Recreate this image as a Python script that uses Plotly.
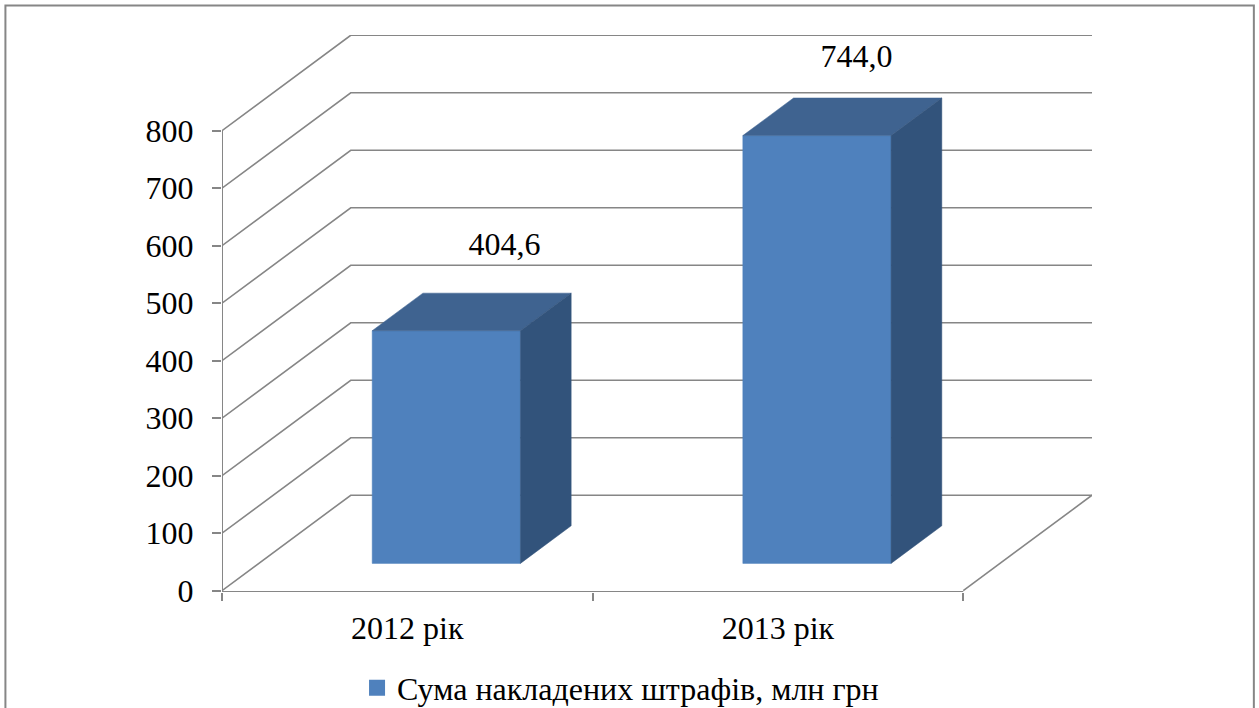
import plotly.graph_objects as go

# --- data ---
categories = ["2012 рік", "2013 рік"]
series_name = "Сума накладених штрафів, млн грн"
values = [404.6, 744.0]
value_labels = ["404,6", "744,0"]
y_ticks = [0, 100, 200, 300, 400, 500, 600, 700, 800]

# --- geometry of the oblique projection, in axis units ---
W, H = 1259, 708
L, R, T, B = 222, 1091.7, 35, 592
X_PER_CAT = 370.5
Y_PER_VAL = 0.575
WALL_DX = (R - L) / X_PER_CAT - 2      # depth of the box, x part
WALL_DY = 166.0                        # depth of the box, y part
GAP_FRAC = 0.303                       # bar starts this far into the depth
BAR_FRAC = 0.394                       # bar occupies this much of the depth
BAR_LIFT = -2.8                        # fine adjustment of the bar base
BAR_WIDTH = 0.4
LABEL_DX = [0.157, 0.107]              # label offset from the bar's centre
LABEL_DY = [80.0, 68.0]                # label offset from the bar's rear top

GRID = "#868686"
FRONT = "#4F81BD"
TOP = "#3F6390"
SIDE = "#32537B"
FONT = "Liberation Serif"

fig = go.Figure()

# walls and floor
gx, gy = [], []
for v in y_ticks:
    gx += [0, WALL_DX, 2 + WALL_DX, None]
    gy += [v, v + WALL_DY, v + WALL_DY, None]
gx += [2, 2 + WALL_DX]
gy += [0, WALL_DY]
fig.add_trace(go.Scatter(x=gx, y=gy, mode="lines", showlegend=False, hoverinfo="skip",
                         line=dict(color=GRID, width=1.6)))
# value axis line and category axis line
axis_y = -(B - 590.7) / Y_PER_VAL
fig.add_trace(go.Scatter(x=[0, 0, None, 0, 2], y=[axis_y, y_ticks[-1], None, axis_y, axis_y],
                         mode="lines", showlegend=False,
                         hoverinfo="skip", line=dict(color=GRID, width=2), cliponaxis=False))

# bars
ox, oy = WALL_DX * GAP_FRAC, WALL_DY * GAP_FRAC + BAR_LIFT
dx, dy = WALL_DX * BAR_FRAC, WALL_DY * BAR_FRAC
for i, v in enumerate(values):
    x0 = i + 0.5 - BAR_WIDTH / 2 + ox
    x1 = i + 0.5 + BAR_WIDTH / 2 + ox
    y0, y1 = oy, oy + v
    faces = [
        ([x0, x1, x1, x0, x0], [y0, y0, y1, y1, y0], FRONT),
        ([x0, x1, x1 + dx, x0 + dx, x0], [y1, y1, y1 + dy, y1 + dy, y1], TOP),
        ([x1, x1 + dx, x1 + dx, x1, x1], [y0, y0 + dy, y1 + dy, y1, y0], SIDE),
    ]
    for fx, fy, col in faces:
        fig.add_trace(go.Scatter(x=fx, y=fy, mode="lines", fill="toself", fillcolor=col,
                                 line=dict(color=col, width=0.5), showlegend=False,
                                 hoverinfo="skip"))

# value labels
fig.add_trace(go.Scatter(
    x=[i + 0.5 + ox + LABEL_DX[i] for i in range(len(values))],
    y=[oy + v + dy + LABEL_DY[i] for i, v in enumerate(values)],
    text=value_labels, mode="text", textposition="middle center",
    textfont=dict(family=FONT, size=32, color="black"),
    showlegend=False, hoverinfo="skip", cliponaxis=False))

# legend entry
fig.add_trace(go.Scatter(x=[None], y=[None], mode="markers", name=series_name,
                         marker=dict(symbol="square", size=16, color=FRONT, line=dict(width=0))))

paper_x = lambda px: (px - L) / (R - L)
paper_y = lambda px: (B - px) / (B - T)

fig.update_layout(
    width=W, height=H,
    margin=dict(l=L, r=W - R, t=T, b=H - B, pad=0, autoexpand=False),
    paper_bgcolor="white", plot_bgcolor="white",
    showlegend=True,
    legend=dict(x=paper_x(357), xanchor="left", y=paper_y(688), yanchor="middle",
                font=dict(family=FONT, size=32, color="black"),
                bgcolor="rgba(0,0,0,0)", itemwidth=30),
    xaxis=dict(range=[0, 2 + WALL_DX], tickvals=[0.5, 1.5], ticktext=categories,
               ticks="", showgrid=False, zeroline=False, showline=False,
               tickfont=dict(family=FONT, size=32, color="black"),
               ticklabelstandoff=14,
               minor=dict(tickvals=[0, 1, 2], ticks="outside", ticklen=8, tickwidth=1.5,
                          tickcolor=GRID, showgrid=False)),
    yaxis=dict(range=[axis_y, (590.7 - T) / Y_PER_VAL],
               tickvals=y_ticks, ticks="outside", ticklen=9, tickwidth=1.5, tickcolor=GRID,
               showgrid=False, zeroline=False, showline=False,
               tickfont=dict(family=FONT, size=32, color="black"),
               ticklabelstandoff=12),
    shapes=[dict(type="rect", xref="paper", yref="paper", layer="below",
                 x0=paper_x(5.5), x1=paper_x(1253.5), y0=paper_y(730), y1=paper_y(5.5),
                 line=dict(color="#868686", width=2))],
)

fig.write_html("out.html", config=dict(displayModeBar=False),
               post_script="document.body.style.margin='0';document.body.style.overflow='hidden';")
